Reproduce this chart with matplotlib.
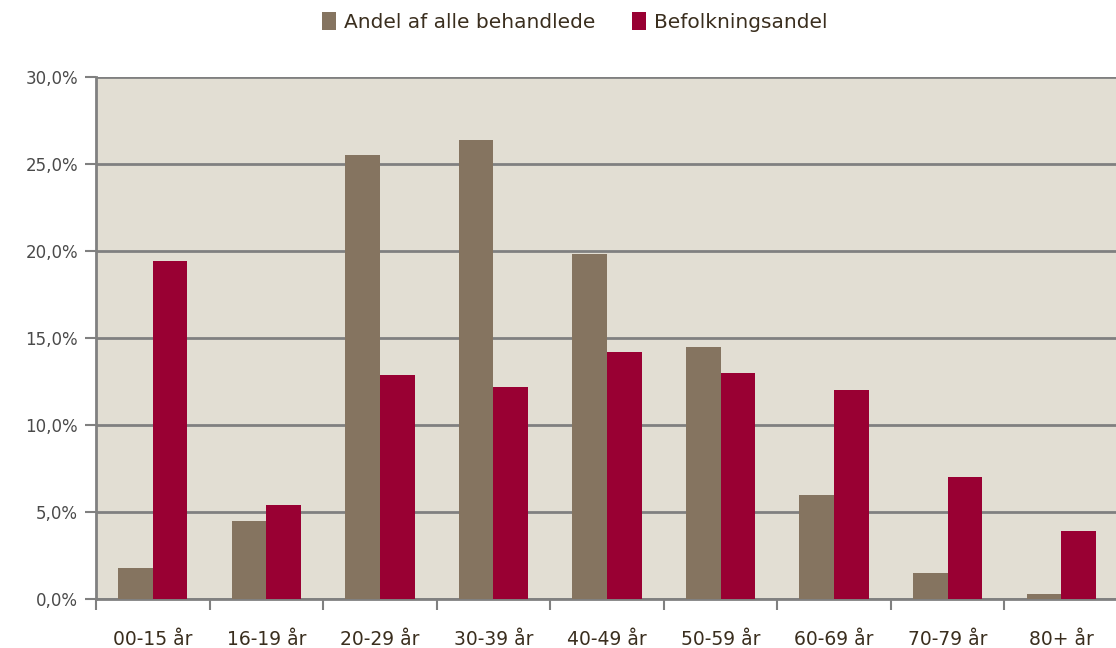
import matplotlib
matplotlib.use("Agg")
import matplotlib.pyplot as plt
import numpy as np
from matplotlib.ticker import FuncFormatter

categories = ["00-15 år", "16-19 år", "20-29 år", "30-39 år", "40-49 år",
              "50-59 år", "60-69 år", "70-79 år", "80+ år"]
andel_behandlede = [1.8, 4.5, 25.5, 26.4, 19.8, 14.5, 6.0, 1.5, 0.3]
befolkningsandel = [19.4, 5.4, 12.9, 12.2, 14.2, 13.0, 12.0, 7.0, 3.9]
series_names = ["Andel af alle behandlede", "Befolkningsandel"]
yticks = [0, 5, 10, 15, 20, 25, 30]

W, H = 1116, 648
fig = plt.figure(figsize=(W/100, H/100), dpi=100)
left, right, top, bottom = 96, 1118, 77, 599
ax = fig.add_axes([left/W, 1 - bottom/H, (right-left)/W, (bottom-top)/H])
ax.set_facecolor("#E2DED3")

x = np.arange(len(categories))
bw = 0.305
c1, c2 = "#857460", "#990033"
b1 = ax.bar(x - bw/2, andel_behandlede, bw, color=c1, zorder=3, label=series_names[0])
b2 = ax.bar(x + bw/2, befolkningsandel, bw, color=c2, zorder=3, label=series_names[1])

ax.set_xlim(-0.5, len(categories) - 0.5)
ax.set_ylim(0, 30)
ax.set_yticks(yticks)
ax.yaxis.set_major_formatter(FuncFormatter(lambda v, p: f"{v:.1f}%".replace(".", ",")))
ax.grid(axis="y", color="#808080", linewidth=2, zorder=1)
ax.set_axisbelow(True)

for s in ["top", "right"]:
    ax.spines[s].set_visible(False)
for s in ["left", "bottom"]:
    ax.spines[s].set_color("#808080")
    ax.spines[s].set_linewidth(2)

ax.set_xticks(np.arange(len(categories) + 1) - 0.5)
ax.set_xticklabels([])
ax.set_xticks(x, minor=True)
ax.set_xticklabels(categories, minor=True)
ax.tick_params(axis="x", which="major", length=8, width=1.5, color="#808080", direction="out")
ax.tick_params(axis="x", which="minor", length=0, pad=22, labelsize=13.5, labelcolor="#3a2e1e")
ax.tick_params(axis="y", length=8, width=1.5, color="#808080", direction="out",
               labelsize=12, labelcolor="#4a4a4a", pad=5)

fig.legend(handles=[b1, b2], labels=series_names, loc="upper center",
           bbox_to_anchor=(0.515, 1.009), ncol=2, frameon=False,
           fontsize=14.5, handlelength=0.7, handleheight=1.0, handletextpad=0.4,
           columnspacing=1.8, labelcolor="#3a2e1e")

fig.savefig("out.png", dpi=100)
